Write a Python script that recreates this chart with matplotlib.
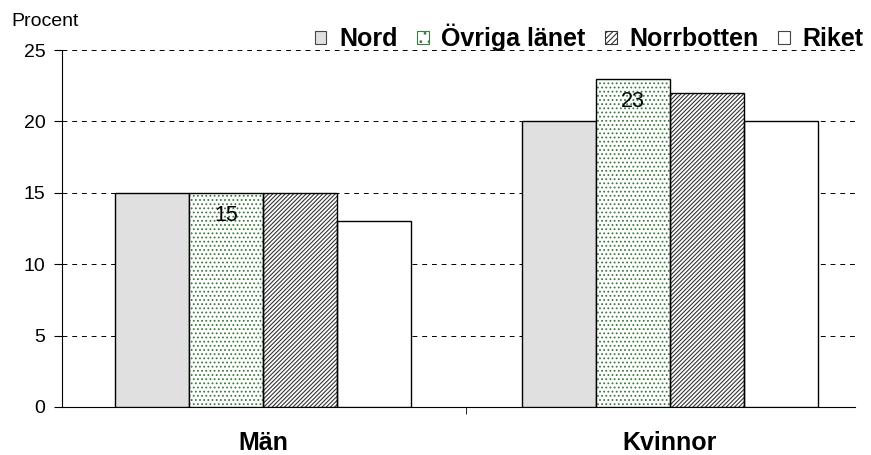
import matplotlib
matplotlib.use('Agg')
from matplotlib import pyplot as plt
import numpy as np

plt.rcParams['font.family'] = ['Liberation Sans', 'DejaVu Sans']
plt.rcParams['hatch.linewidth'] = 0.8

categories = ['Män', 'Kvinnor']
series = ['Nord', 'Övriga länet', 'Norrbotten', 'Riket']
nord = [15, 20]
ovriga = [15, 23]
norrbotten = [15, 22]
riket = [13, 20]

fig = plt.figure(figsize=(8.71, 4.55), dpi=100)
ax = fig.add_axes([0.0712, 0.1055, 0.9104, 0.7845])

x = np.arange(len(categories))
w = 0.182
offsets = [-1.5, -0.5, 0.5, 1.5]

handles = []
# Nord
ax.bar(x + offsets[0] * w, nord, w, color='#e0e0e0', edgecolor='black', linewidth=1, zorder=3)
handles.append(ax.bar([0], [0], 0, color='#e0e0e0', edgecolor='#444444', linewidth=0.8))
# Övriga länet - dotted green
ax.bar(x + offsets[1] * w, ovriga, w, color='white', edgecolor='#3d7a3d', hatch='....', linewidth=0, zorder=3)
ax.bar(x + offsets[1] * w, ovriga, w, fill=False, edgecolor='black', linewidth=1, zorder=4)
handles.append(ax.bar([0], [0], 0, color='white', edgecolor='#3d7a3d', hatch='..', linewidth=0.8))
# Norrbotten - diagonal
ax.bar(x + offsets[2] * w, norrbotten, w, color='white', edgecolor='#333333', hatch='////////', linewidth=0, zorder=3)
ax.bar(x + offsets[2] * w, norrbotten, w, fill=False, edgecolor='black', linewidth=1, zorder=4)
handles.append(ax.bar([0], [0], 0, color='white', edgecolor='#333333', hatch='//////', linewidth=0.8))
# Riket
ax.bar(x + offsets[3] * w, riket, w, color='white', edgecolor='black', linewidth=1, zorder=3)
handles.append(ax.bar([0], [0], 0, color='white', edgecolor='#444444', linewidth=0.8))

# value labels on Övriga länet
for i, v in enumerate(ovriga):
  ax.text(x[i] + offsets[1] * w, v - 1.6, str(v), ha='center', va='center', fontsize=15.5, zorder=5)

ax.set_ylim(0, 25)
ax.set_xlim(-0.494, 1.455)
ax.set_yticks([0, 5, 10, 15, 20, 25])
ax.tick_params(axis='y', labelsize=14, direction='out', length=6, pad=6)
ax.set_xticks(x)
ax.set_xticklabels(categories, fontsize=18, fontweight='bold')
ax.set_xticks([0.5], minor=True)
ax.tick_params(axis='x', which='major', length=0, pad=17)
ax.tick_params(axis='x', which='minor', length=5, direction='out')
ax.yaxis.grid(True, linestyle=(0, (5, 5)), color='black', linewidth=0.7, zorder=0)
ax.set_axisbelow(True)
for s in ['top', 'right']:
  ax.spines[s].set_visible(False)

fig.text(0.013, 0.953, 'Procent', fontsize=14, ha='left', va='center')

leg = fig.legend(handles, series, ncol=4, loc='center right', bbox_to_anchor=(0.991, 0.917),
                 frameon=False, prop={'weight': 'bold', 'size': 18},
                 handlelength=0.45, handleheight=0.45, handletextpad=0.5, columnspacing=0.8,
                 borderaxespad=0, borderpad=0)

plt.savefig('out.png', dpi=100)
